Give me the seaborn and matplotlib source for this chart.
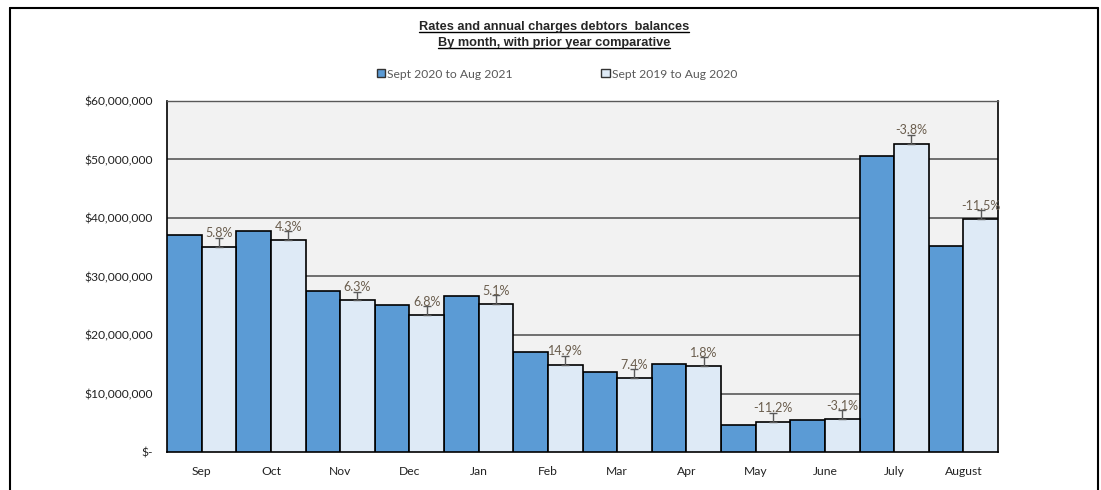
import pandas as pd
import matplotlib
matplotlib.use('Agg')
import matplotlib.pyplot as plt
import seaborn as sns
from matplotlib.patches import Patch
from matplotlib.lines import Line2D
from matplotlib.ticker import FuncFormatter

# =============================
# Dados
# =============================
meses = ['Sep', 'Oct', 'Nov', 'Dec', 'Jan', 'Feb', 'Mar', 'Apr', 'May', 'June', 'July', 'August']
serie_atual = 'Sept 2020 to Aug 2021'
serie_anterior = 'Sept 2019 to Aug 2020'
saldo_atual = [37.1, 37.8, 27.6, 25.1, 26.6, 17.1, 13.6, 15.0, 4.6, 5.45, 50.6, 35.2]      # milhões
saldo_anterior = [35.1, 36.2, 25.9, 23.4, 25.3, 14.9, 12.65, 14.7, 5.2, 5.63, 52.7, 39.8]  # milhões
variacao = ['5.8%', '4.3%', '6.3%', '6.8%', '5.1%', '14.9%', '7.4%', '1.8%',
            '-11.2%', '-3.1%', '-3.8%', '-11.5%']

df = pd.DataFrame({
    'mes': meses * 2,
    'valor': [v * 1e6 for v in saldo_atual + saldo_anterior],
    'periodo': [serie_atual] * len(meses) + [serie_anterior] * len(meses),
})

cor_atual = '#5b9bd5'
cor_anterior = '#deeaf6'
cinza = '#595959'

# =============================
# Figura
# =============================
sns.set_style('white')
plt.rcParams['font.family'] = ['Lato', 'DejaVu Sans']

fig = plt.figure(figsize=(11.01, 4.9), dpi=100)
ax = fig.add_axes([167 / 1101, 1 - 452 / 490, (998 - 167) / 1101, (452 - 101) / 490])
ax.set_facecolor('#f2f2f2')

sns.barplot(data=df, x='mes', y='valor', hue='periodo', order=meses,
            hue_order=[serie_atual, serie_anterior],
            palette=[cor_atual, cor_anterior], width=1.0, gap=0,
            edgecolor='black', linewidth=1.2, errorbar=None, saturation=1,
            legend=False, zorder=3, ax=ax)

ax.set_ylim(0, 60e6)
ax.set_xlim(-0.5, len(meses) - 0.5)
ax.set_yticks(range(0, 60000001, 10000000))
ax.yaxis.set_major_formatter(FuncFormatter(lambda v, p: '$-' if v == 0 else f'${v:,.0f}'))
for y in range(10000000, 60000001, 10000000):
    ax.axhline(y, color=cinza, lw=1.2, zorder=1)

ax.tick_params(axis='both', length=0, labelsize=8.7, colors='#222222')
ax.tick_params(axis='y', pad=10)
ax.tick_params(axis='x', pad=10)
ax.set_xlabel('')
ax.set_ylabel('')
for lado in ['left', 'bottom', 'right']:
    ax.spines[lado].set_color('black')
    ax.spines[lado].set_linewidth(1.2)
ax.spines['top'].set_color(cinza)
ax.spines['top'].set_linewidth(1.0)

# variação % sobre as barras do ano anterior
barras_ant = ax.containers[1]
for barra, txt in zip(barras_ant, variacao):
    xc = barra.get_x() + barra.get_width() / 2
    topo = barra.get_height()
    ax.errorbar(xc, topo, yerr=[[0], [1.5e6]], color=cinza, lw=1, capsize=3,
                capthick=1, zorder=4)
    ax.text(xc, topo + 2.3e6, txt, ha='center', va='center', fontsize=9,
            color='#6a5d4d', zorder=5)

# legenda
handles = [Patch(facecolor=cor_atual, edgecolor='#333333', lw=1),
           Patch(facecolor=cor_anterior, edgecolor='#333333', lw=1)]
fig.legend(handles, [serie_atual, serie_anterior], loc='center',
           bbox_to_anchor=(557 / 1101, 1 - 74 / 490), ncol=2, frameon=False,
           fontsize=8.7, labelcolor=cinza, handlelength=0.7, handleheight=0.7,
           handletextpad=0.2, columnspacing=7.3)

# título sublinhado
linhas = ['Rates and annual charges debtors  balances', 'By month, with prior year comparative']
ys = [1 - 27 / 490, 1 - 43 / 490]
textos = [fig.text(554 / 1101, y, t, ha='center', va='center', fontsize=9.2,
                   fontweight='bold', family='Liberation Sans') for t, y in zip(linhas, ys)]
fig.canvas.draw()
inv = fig.transFigure.inverted()
for t in textos:
    bb = t.get_window_extent().transformed(inv)
    fig.add_artist(Line2D([bb.x0, bb.x1], [bb.y0 + 0.002, bb.y0 + 0.002],
                          transform=fig.transFigure, color='black', lw=1))

# moldura
for xs, ys_ in [([10 / 1101, 10 / 1101], [0, 1 - 8 / 490]),
                ([10 / 1101, 1098 / 1101], [1 - 8 / 490, 1 - 8 / 490]),
                ([1098 / 1101, 1098 / 1101], [1 - 8 / 490, 0])]:
    fig.add_artist(Line2D(xs, ys_, transform=fig.transFigure, color='black', lw=1.5))

fig.savefig('out.png', dpi=100)
